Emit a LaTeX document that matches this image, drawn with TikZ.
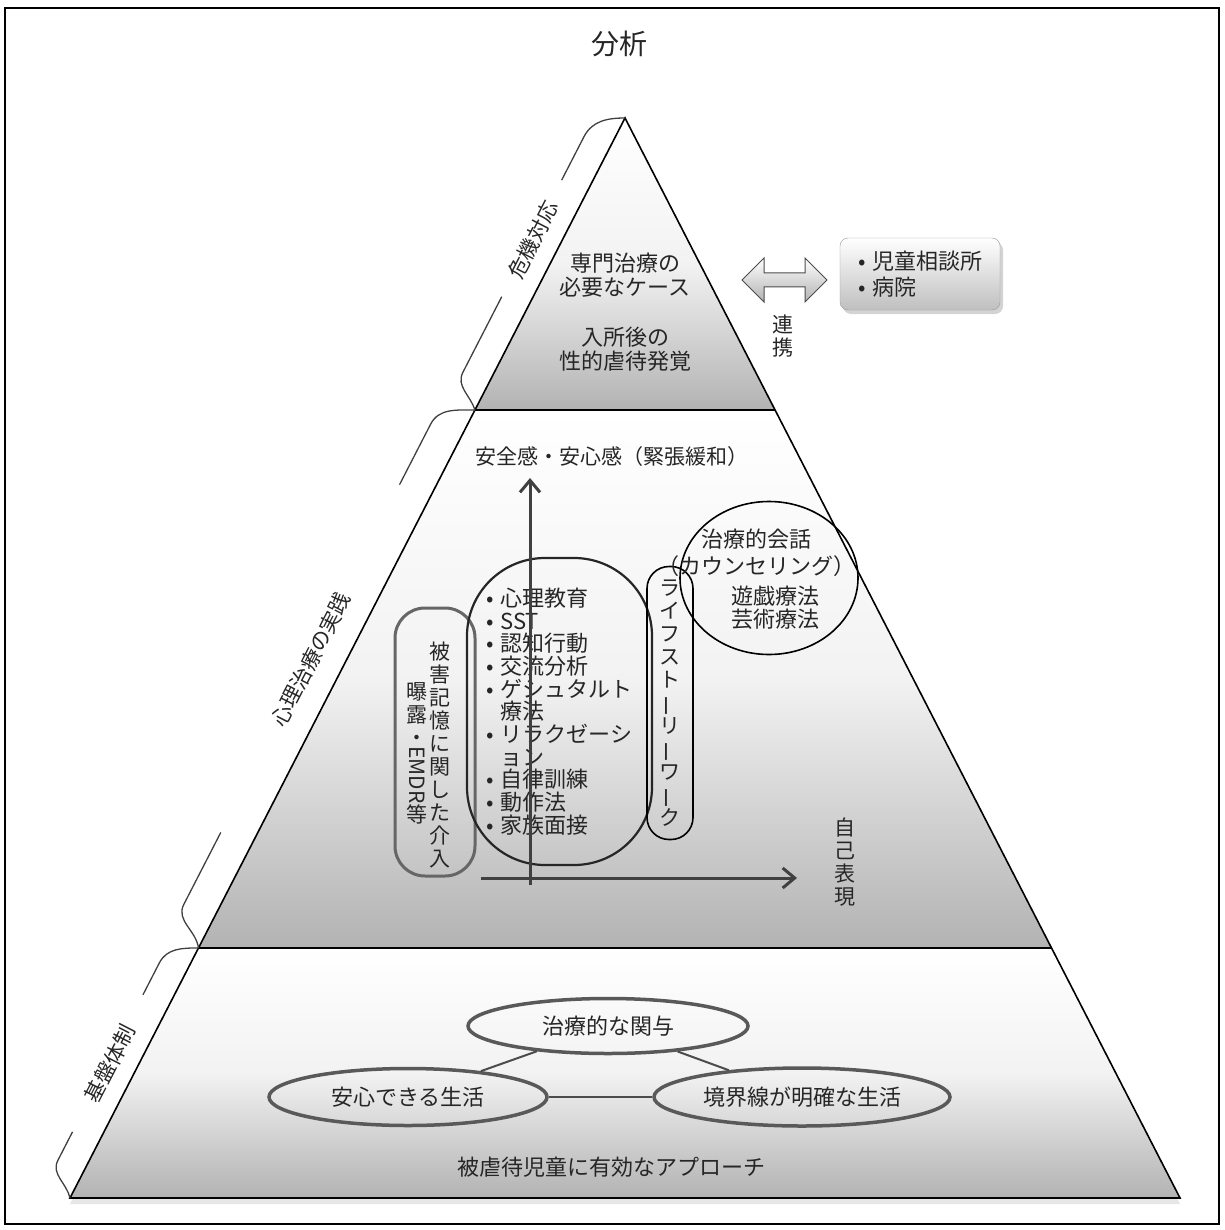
\documentclass[tikz,border=0pt]{standalone}
\usepackage{fontspec}
\setmainfont{Noto Sans CJK JP}
\usetikzlibrary{shapes.geometric,arrows.meta,shadows}

\newcommand\blt{\makebox[14pt][l]{•}}
\newcommand\tatebou{\rotatebox[origin=c]{90}{ー}}

\begin{document}
\begin{tikzpicture}[x=1pt, y=-1pt,
		every node/.style={text=black!85, inner sep=0pt},
		txt/.style={font=\fontsize{22}{24}\selectfont, align=center},
		tate/.style={font=\fontsize{21}{23}\selectfont, align=center},
		side/.style={font=\fontsize{21}{23}\selectfont, rotate=62.8},
		tier/.style={top color=white, bottom color=black!30, middle color=black!5},
		rim/.style={line width=1.6pt, black},
		bracket/.style={line width=1.3pt, black!75},
		ring/.style={ellipse, draw=black!65, line width=3.5pt, font=\fontsize{22}{24}\selectfont},
		axisarrow/.style={line width=3pt, black!75, -{Straight Barb[length=12pt, width=20pt]}}]

		\useasboundingbox(0, 0) rectangle (1224, 1230);
		\draw[line width=1.2pt](5, 8) rectangle (1219, 1224);

		\node[font=\fontsize{28}{30}\selectfont] (title) at(619, 44){分析};

		\coordinate (apex) at(625, 118);
		\coordinate (tl) at(475, 410);
		\coordinate (tr) at(775, 410);
		\coordinate (ml) at(198.5, 948);
		\coordinate (mr) at(1051.5, 948);
		\coordinate (bl) at(70, 1198);
		\coordinate (br) at(1180, 1198);

		\path[fill=white, drop shadow={opacity=0.2, shadow xshift=0pt, shadow yshift=-6pt}](apex) -- (br) -- (bl) -- cycle;
		\shade[tier](apex) -- (tr) -- (tl) -- cycle;
		\shade[tier](tl) -- (tr) -- (mr) -- (ml) -- cycle;
		\shade[tier](ml) -- (mr) -- (br) -- (bl) -- cycle;
		\draw[rim](apex) -- (br) -- (bl) -- cycle;
		\draw[rim](tl) to (tr);
		\draw[rim](ml) to (mr);

		\begin{scope}[shift={(tl)}, rotate=62.8, y=1pt]
			\draw[bracket](0, 0) to[out=45, in=180] (28, 28) -- (113, 28);
			\draw[bracket](244, 28) -- (293, 28) to[out=0, in=117] (328.3, 0);
			\node[side] (kiki) at(178, 26){危機対応};
		\end{scope}
		\begin{scope}[shift={(ml)}, rotate=62.8, y=1pt]
			\draw[bracket](0, 0) to[out=35, in=180] (32, 33) -- (113, 33);
			\draw[bracket](504, 33) -- (572, 33) to[out=0, in=117] (604.8, 0);
			\node[side] (shinri) at(308, 32){心理治療の実践};
		\end{scope}
		\begin{scope}[shift={(bl)}, rotate=62.8, y=1pt]
			\draw[bracket](0, 0) to[out=40, in=180] (28, 28) -- (60, 28);
			\draw[bracket](214, 28) -- (250, 28) to[out=0, in=117] (281.1, 0);
			\node[side] (kiban) at(138, 26){基盤体制};
		\end{scope}


		\node[txt] (senmon) at(625, 275){専門治療の\\必要なケース};
		\node[txt] (nyusho) at(625, 349){入所後の\\性的虐待発覚};

		\shade[top color=white, bottom color=black!30, draw=black!70, line width=1pt](742, 280) -- (764, 258) -- (764, 273) -- (805, 273) -- (805, 258) -- (827, 280) -- (805, 302) -- (805, 287) -- (764, 287) -- (764, 302) -- cycle;
		\node[tate] (renkei) at(783, 336){連\\携};
		\node[draw=black!40, rounded corners=8pt, top color=white, bottom color=black!25,
			drop shadow={opacity=0.35, shadow xshift=3pt, shadow yshift=-4pt},
			minimum width=160pt, minimum height=72pt, align=left, font=\fontsize{22}{26}\selectfont]
			(kikan) at(920, 274){\blt 児童相談所\\\blt 病院};


		\node[font=\fontsize{21}{23}\selectfont] (anzen) at(612, 457){安全感・安心感（緊張緩和）};

		\node[draw=black!60, line width=3pt, rounded corners=30pt, minimum width=80pt, minimum height=268pt] (kioku) at(435, 742){};
			\node[tate] (kioku1) at(440, 755){被\\害\\記\\憶\\に\\関\\し\\た\\介\\入};
			\node[tate] (kioku2) at(417, 753){曝\\露\\・\\\rotatebox[origin=c]{-90}{EMDR}\\等};
		\node[draw=black!85, line width=2.2pt, rounded corners=78pt, minimum width=185pt, minimum height=307pt,
			align=left, font=\fontsize{22}{22.7}\selectfont] (kyoiku) at(559.5, 711.5){\blt 心理教育\\\blt SST\\\blt 認知行動\\\blt 交流分析\\\blt ゲシュタルト\\\hspace*{14pt}療法\\\blt リラクゼーシ\\\hspace*{14pt}ョン\\\blt 自律訓練\\\blt 動作法\\\blt 家族面接};
		\node[draw, line width=1.6pt, rounded corners=22pt, minimum width=46pt, minimum height=273pt, tate] (life) at(670, 703){ラ\\イ\\フ\\ス\\ト\\\tatebou\\リ\\\tatebou\\ワ\\\tatebou\\ク};
		\node[draw, line width=1.6pt, ellipse, minimum width=178pt, minimum height=153pt] (kaiwa) at(769, 578){};
			\node[txt, font=\fontsize{22}{27}\selectfont] (kaiwa1) at(756, 553){治療的会話\\（カウンセリング）};
			\node[txt, font=\fontsize{22}{23}\selectfont] (kaiwa2) at(775, 608){遊戯療法\\芸術療法};

		\coordinate (origin) at(530, 885);
		\coordinate (ytop) at(530, 478);
		\coordinate (xleft) at(481, 878);
		\coordinate (xright) at(797, 878);
		\draw[axisarrow](origin) to (ytop);
		\draw[axisarrow](xleft) to (xright);
		\node[tate] (jiko) at(845, 862){自\\己\\表\\現};


		\node[ring, minimum width=280pt, minimum height=55pt] (kanyo) at(608, 1026){治療的な関与};
		\node[ring, minimum width=278pt, minimum height=57pt] (anshin) at(408, 1097){安心できる生活};
		\node[ring, minimum width=296pt, minimum height=58pt] (kyokai) at(802, 1097){境界線が明確な生活};
		\draw[line width=2pt, black!70](kanyo) to (anshin);
		\draw[line width=2pt, black!70](kanyo) to (kyokai);
		\draw[line width=2pt, black!70](anshin) to (kyokai);
		\node[txt] (approach) at(611, 1167){被虐待児童に有効なアプローチ};

	\end{tikzpicture}
\end{document}
